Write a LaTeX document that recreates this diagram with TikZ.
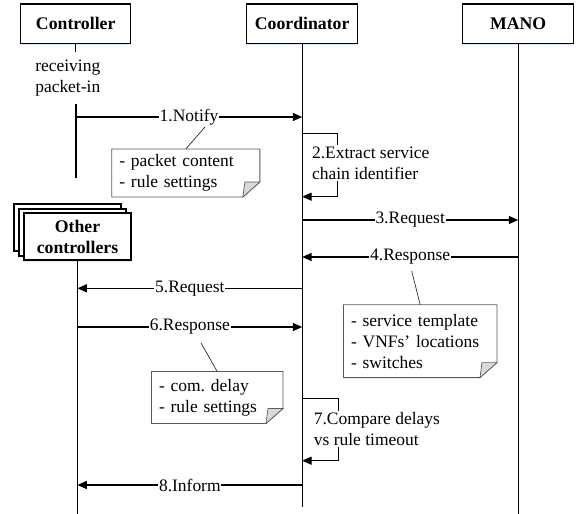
\documentclass[tikz,border=0pt]{standalone}
\usepackage{fontspec}
\setmainfont{Liberation Serif}
\usetikzlibrary{arrows.meta,calc,shadows}
\frenchspacing
\begin{document}
\begin{tikzpicture}[x=0.75pt,y=-0.75pt,
  font=\fontsize{13.1}{15.75}\selectfont,
  actor/.style={draw, line width=1.1pt, fill=white, inner sep=0pt, align=center,
    font=\fontsize{13.3}{15.75}\selectfont\bfseries,
    drop shadow={shadow xshift=-0.6pt, shadow yshift=-1pt, fill=blue!60!cyan, opacity=0.15}},
  life/.style={line width=0.9pt},
  msg/.style={line width=0.9pt, -{Triangle[length=7pt,width=6pt]}},
  selfmsg/.style={line width=0.8pt, -{Triangle[length=7pt,width=6pt]}},
  lbl/.style={fill=white, inner xsep=0.6pt, inner ysep=1pt},
  selftxt/.style={anchor=west, align=left, fill=white, inner xsep=0pt, inner ysep=1pt},
  note/.style={align=left, inner xsep=5.5pt, inner ysep=0pt},
  notebd/.style={draw=black!65, line width=0.6pt},
  foldst/.style={draw=black!65, line width=0.5pt, fill=black!15},
  link/.style={line width=0.5pt, draw=black!85},
]
\useasboundingbox (0,0) rectangle (576,514);

% actors
\node[actor, minimum width=82.5pt, minimum height=29.8pt] (ctrl) at (75.7,23.85) {Controller};
\node[actor, minimum width=83.25pt, minimum height=29.8pt] (coord) at (302.2,23.85) {Coordinator};
\node[actor, minimum width=83.25pt, minimum height=29.8pt] (mano) at (518.2,23.85) {MANO};
\node[actor, minimum width=80.25pt, minimum height=35.25pt] (oth3) at (67.5,227.5) {};
\node[actor, minimum width=80.25pt, minimum height=35.25pt] (oth2) at (72.5,232.5) {};
\node[actor, minimum width=80.25pt, minimum height=35.25pt] (other) at (77.5,236.7) {Other\\controllers};

% lifeline coordinates
\coordinate (cgap) at (75.7,52);
\coordinate (recv) at (76,104);
\coordinate (ctrlend) at (76,178);
\coordinate (otherend) at (77.5,514);
\coordinate (coordend) at (302.2,507.3);
\coordinate (manoend) at (518.2,514);

\draw[life] (ctrl.south) -- (cgap);
\node[anchor=west, align=left, inner sep=0pt] (recvtxt) at (35,78.5) {receiving\\packet-in};
\draw[life] (recv) -- (ctrlend);
\draw[life] (other.south) -- (otherend);
\draw[life] (coord.south) -- (coordend);
\draw[life] (mano.south) -- (manoend);

% message coordinates
\coordinate (m1a) at (76,117);      \coordinate (m1b) at (302.2,117);
\coordinate (s2a) at (302.2,133.3); \coordinate (s2b) at (302.2,196.7);
\coordinate (m3a) at (302.2,220);   \coordinate (m3b) at (518.2,220);
\coordinate (m4a) at (518.2,257);   \coordinate (m4b) at (302.2,257);
\coordinate (m5a) at (302.2,288.3); \coordinate (m5b) at (77.5,288.3);
\coordinate (m6a) at (77.5,327);    \coordinate (m6b) at (302.2,327);
\coordinate (s7a) at (302.2,398.3); \coordinate (s7b) at (302.2,460.7);
\coordinate (m8a) at (302.2,485);   \coordinate (m8b) at (77.5,485);

\draw[msg] (m1a) -- node[lbl] (l1) {1.Notify} (m1b);
\draw[selfmsg] (s2a) -- ++(35,0) |- (s2b);
\node[selftxt] (t2) at (311.8,163) {2.Extract service\\chain identifier};
\draw[msg] (m3a) -- node[lbl] (l3) {3.Request} (m3b);
\draw[msg] (m4a) -- node[lbl] (l4) {4.Response} (m4b);
\draw[msg] (m5a) -- node[lbl] (l5) {5.Request} (m5b);
\draw[msg] (m6a) -- node[lbl] (l6) {6.Response} (m6b);
\draw[selfmsg] (s7a) -- ++(36,0) |- (s7b);
\node[selftxt] (t7) at (313.6,428.8) {7.Compare delays\\vs rule timeout};
\draw[msg] (m8a) -- node[lbl] (l8) {8.Inform} (m8b);

% notes
\node[note, text width=99.7pt, minimum height=35.6pt] (n1) at (185.8,173) {- packet content\\- rule settings};
\node[note, text width=103.75pt, minimum height=54.2pt] (n4) at (420.2,341.2) {- service template\\- VNFs' locations\\- switches};
\node[note, text width=87.25pt, minimum height=38.7pt] (n6) at (217.2,397.5) {- com. delay\\- rule settings};

\foreach \n in {n1,n4,n6}{
  \draw[notebd] (\n.north west) -- (\n.north east) -- ($(\n.south east)+(0,-15)$)
     -- ($(\n.south east)+(-17,0)$) -- (\n.south west) -- cycle;
  \filldraw[foldst] ($(\n.south east)+(-15,-15)$) -- ($(\n.south east)+(0,-15)$)
     -- ($(\n.south east)+(-17,0)$) -- cycle;
}

\coordinate (k1) at (205,127);
\coordinate (k4) at (411.7,271);
\coordinate (k6) at (201,343);
\draw[link] (n1.north) -- (k1);
\draw[link] (n4.north) -- (k4);
\draw[link] (n6.north) -- (k6);
\end{tikzpicture}
\end{document}
